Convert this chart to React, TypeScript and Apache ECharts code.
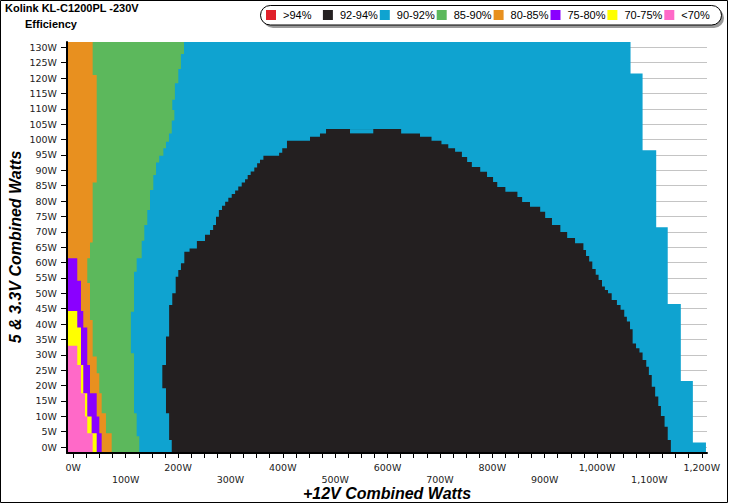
import { useEffect, useRef } from 'react';
import * as echarts from 'echarts';

// ---- axis extents (W) ----
const X_MIN = -12;
const X_MAX = 1210;
const Y_MIN = -1.95;
const Y_MAX = 131.72;

// ---- tick labels ----
const yTickValues = [0, 5, 10, 15, 20, 25, 30, 35, 40, 45, 50, 55, 60, 65, 70, 75, 80, 85, 90, 95, 100, 105, 110, 115, 120, 125, 130];
const xLabelValues = [0, 100, 200, 300, 400, 500, 600, 700, 800, 900, 1000, 1100, 1200];
const xMinorTicks = [0, 25, 50, 75, 100, 125, 150, 175, 200, 225, 250, 275, 300, 325, 350, 375, 400, 425, 450, 475, 500, 525, 550, 575, 600, 625, 650, 675, 700, 725, 750, 775, 800, 825, 850, 875, 900, 925, 950, 975, 1000, 1025, 1050, 1075, 1100, 1125, 1150, 1175, 1200];

// ---- legend ----
const legendLabels = ['>94%', '92-94%', '90-92%', '85-90%', '80-85%', '75-80%', '70-75%', '<70%'];
const legendColors = ['#e0202a', '#231f20', '#0fa3d0', '#5cb85c', '#e8901f', '#8a00ff', '#ffff00', '#ff69c8'];

// ---- efficiency regions: each zone spans from the left edge to its right edge (+12V W)
// Y arrays are the 5V&3.3V breakpoints (W), W arrays the right edge for each band between them
const outerBlueY = [-1.95, 1.5, 21.5, 46.5, 71.5, 96.5, 121.5, 131.72];
const outerBlueW = [1208, 1183, 1160, 1135, 1113, 1087, 1064];

const blackY = [-1.95, 2.3, 6.6, 10.1, 13.3, 16.4, 19.6, 23.4, 26.1, 28.3, 30.7, 32.1, 33.7, 38.3, 40.8, 42.4, 44.6, 46.2, 47.8, 50, 51.1, 52.2, 54.3, 56, 57.9, 60.3, 62.1, 64.1, 66.3, 68, 69.9, 72.2, 74.5, 76.5, 78.1, 79.7, 81.3, 83, 84.6, 86.2, 87.8, 89.5, 91.1, 92.7, 94.3, 96, 97.2, 98.5, 99.6, 100.9, 102, 103.4];
const blackW = [1141, 1135, 1129, 1122, 1117, 1111, 1104.5, 1099, 1094, 1087, 1081, 1074.5, 1068, 1063, 1057, 1052, 1045, 1038, 1028, 1021, 1015, 1009.5, 1003, 997.5, 991, 985, 979, 974, 958, 943, 930, 914, 901, 891.5, 872, 857, 848, 825, 809.5, 801.5, 790, 777, 761, 752, 742, 729, 716, 703, 684, 662, 626];

const innerBlueY = [-1.95, 2.3, 11, 19.1, 26.7, 35.9, 46.2, 50, 55.4, 57.6, 59.8, 63.5, 64.6, 67, 69, 70.6, 72.2, 74.9, 77.1, 78.5, 79.8, 81.1, 82.3, 83.4, 84.7, 86, 87.1, 88.5, 89.6, 90.9, 92.3, 93.4, 94.7, 95.7, 97.2, 98.5, 99.6, 100.9, 102, 103.4];
const innerBlueW = [188, 183, 177, 170, 177, 183, 189, 195.5, 200.5, 205.6, 212, 222, 236, 251.5, 261, 267, 272.5, 278, 284, 290, 296, 302.5, 309, 315, 321.6, 328, 333, 338.7, 345.6, 351, 356.5, 363, 393, 399, 408, 408, 452, 471, 482.6];

// gap between the two humps of the black dome's top row
const notchY = [102, 103.4];
const notchW = [528.4, 572.8];

const greenY = [-1.95, 3.5, 11, 30.5, 44, 57, 61.4, 67.1, 72.2, 77.1, 83.6, 88.5, 92.5, 94.7, 97.2, 99.3, 102, 106.2, 109.6, 112.9, 118.3, 122.9, 127.8, 131.72];
const greenW = [126, 121, 116, 110, 116, 121, 130.6, 135.6, 141.3, 146.5, 152.8, 158, 164, 172, 177, 182.7, 188, 193, 189, 194, 200.5, 205.6, 211.4];

const orangeY = [-1.95, 4.5, 11, 17.5, 24, 29.4, 41.3, 53.3, 61.4, 66.5, 86, 121, 131.72];
const orangeW = [73.3, 62.4, 54.2, 49.7, 44.7, 37, 31.9, 26.7, 31.9, 37, 44.7, 37];

const purpleY = [-1.95, 4.5, 9.9, 17.5, 26.7, 38.9, 44.2, 54.1, 61.4];
const purpleW = [54.2, 49.7, 44.7, 31.9, 26.7, 19.1, 14.7, 7.6];

const yellowY = [-1.95, 4.5, 9.9, 17.5, 26.7, 38.9, 44.2];
const yellowW = [44.7, 35, 26.7, 19.1, 14.7, 7.6];

const pinkY = [-1.95, 4.5, 9.9, 17.5, 26.7, 32.9];
const pinkW = [37, 26.7, 22.3, 14.7, 7.6];

const BLUE = legendColors[2];
const layers = [
  { y: outerBlueY, w: outerBlueW, color: BLUE },
  { y: blackY, w: blackW, color: legendColors[1] },
  { y: innerBlueY, w: innerBlueW, color: BLUE },
  { y: greenY, w: greenW, color: legendColors[3] },
  { y: orangeY, w: orangeW, color: legendColors[4] },
  { y: purpleY, w: purpleW, color: legendColors[5] },
  { y: yellowY, w: yellowW, color: legendColors[6] },
  { y: pinkY, w: pinkW, color: legendColors[7] },
];

export default function App() {
  const ref = useRef<HTMLDivElement>(null);
  useEffect(() => {
    if (!ref.current) return;
    const chart = echarts.init(ref.current, null, { renderer: 'svg' });
    const NOTCH = layers.length;
    const data = layers.map((_, i) => [i]).concat([[NOTCH]]);

    const legendGraphics: any[] = [
      { type: 'rect', shape: { x: 263, y: 8, width: 461, height: 20, r: 10 }, style: { fill: '#9a9a9a' }, z: 10 },
      { type: 'rect', shape: { x: 260.5, y: 5.5, width: 461, height: 19.5, r: 10 }, style: { fill: '#fff', stroke: '#000', lineWidth: 1 }, z: 11 },
    ];
    legendLabels.forEach((lab, i) => {
      const x = 266 + 56.9 * i;
      legendGraphics.push({ type: 'rect', shape: { x, y: 10, width: 10, height: 10 }, style: { fill: legendColors[i] }, z: 12 });
      legendGraphics.push({
        type: 'text', x: x + 17, y: 15, z: 12,
        style: { text: lab, fill: '#000', font: '11px "Liberation Sans", Arial, sans-serif', verticalAlign: 'middle', align: 'left' },
      });
    });

    chart.setOption({
      animation: false,
      backgroundColor: '#fff',
      grid: { left: 67, right: 22, top: 42, bottom: 51, containLabel: false },
      title: [
        { text: 'Kolink KL-C1200PL -230V', left: 5, top: 2, padding: 0, textStyle: { fontFamily: '"Liberation Sans", Arial, sans-serif', fontWeight: 'bold', fontSize: 11, color: '#000' } },
        { text: 'Efficiency', left: 25, top: 18, padding: 0, textStyle: { fontFamily: '"Liberation Sans", Arial, sans-serif', fontWeight: 'bold', fontSize: 11, color: '#000' } },
      ],
      xAxis: {
        type: 'value', min: X_MIN, max: X_MAX, z: 20,
        axisLine: { show: true, onZero: false, lineStyle: { color: '#000', width: 2 } },
        axisTick: { show: true, customValues: xMinorTicks, length: 5, lineStyle: { color: '#000', width: 1 } },
        axisLabel: {
          customValues: xLabelValues, margin: 8, lineHeight: 12.5,
          fontFamily: '"DejaVu Sans", Verdana, sans-serif', fontSize: 9.5, color: '#222',
          formatter: (v: number) => { const s = v.toLocaleString('en-US') + 'W'; return v % 200 === 0 ? s : '\n' + s; },
        },
        splitLine: { show: false },
      },
      yAxis: {
        type: 'value', min: Y_MIN, max: Y_MAX, z: 20,
        axisLine: { show: true, onZero: false, lineStyle: { color: '#000', width: 2 } },
        axisTick: { show: true, customValues: yTickValues, length: 6, lineStyle: { color: '#000', width: 1 } },
        axisLabel: {
          customValues: yTickValues, margin: 10,
          fontFamily: '"DejaVu Sans", Verdana, sans-serif', fontSize: 9.5, color: '#222',
          formatter: (v: number) => v + 'W',
        },
        splitLine: { show: false },
      },
      series: [
        {
          type: 'line', data: [], z: 1, silent: true,
          markLine: {
            silent: true, symbol: 'none', animation: false, z: 1,
            label: { show: false },
            lineStyle: { color: '#c4c4c4', width: 1, type: 'solid' },
            data: yTickValues.map((v) => ({ yAxis: v })),
          },
        },
        {
          type: 'custom', z: 10, clip: true, silent: true,
          data,
          renderItem: (params: any, api: any) => {
            const idx = api.value(0);
            if (idx === NOTCH) {
              const a = api.coord([notchW[0], notchY[1]]);
              const b = api.coord([notchW[1], notchY[0]]);
              return { type: 'rect', shape: { x: a[0], y: a[1], width: b[0] - a[0], height: b[1] - a[1] }, style: { fill: BLUE } };
            }
            const L = layers[idx];
            const pts: number[][] = [api.coord([X_MIN, L.y[0]])];
            for (let i = 0; i < L.w.length; i++) {
              pts.push(api.coord([L.w[i], L.y[i]]));
              pts.push(api.coord([L.w[i], L.y[i + 1]]));
            }
            pts.push(api.coord([X_MIN, L.y[L.y.length - 1]]));
            return { type: 'polygon', shape: { points: pts }, style: { fill: L.color } };
          },
        },
      ],
      graphic: [
        { type: 'rect', shape: { x: 0.5, y: 0.5, width: 727, height: 502 }, style: { fill: 'none', stroke: '#000', lineWidth: 1 }, z: 0, silent: true },
        ...legendGraphics,
        {
          type: 'text', x: 387, y: 493, z: 12,
          style: { text: '+12V Combined Watts', fill: '#000', font: 'italic bold 16px "Liberation Sans", Arial, sans-serif', align: 'center', verticalAlign: 'middle' },
        },
        {
          type: 'text', x: 15, y: 247, rotation: Math.PI / 2, z: 12,
          style: { text: '5 & 3.3V Combined Watts', fill: '#000', font: 'italic bold 16px "Liberation Sans", Arial, sans-serif', align: 'center', verticalAlign: 'middle' },
        },
      ],
    });
    return () => chart.dispose();
  }, []);
  return <div ref={ref} style={{ position: 'fixed', left: 0, top: 0, width: 729, height: 504, background: '#fff' }} />;
}
